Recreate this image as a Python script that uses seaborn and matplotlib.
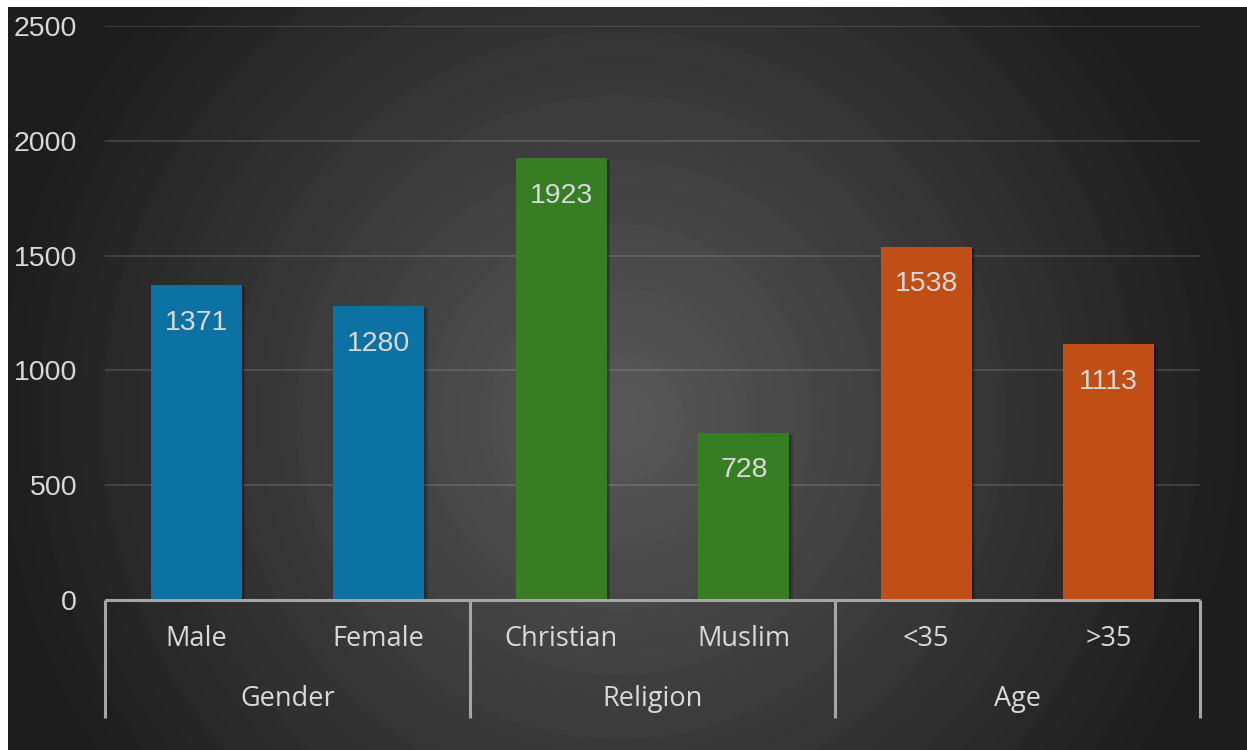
import numpy as np
import pandas as pd
import matplotlib.pyplot as plt
import matplotlib.transforms as mtrans
import matplotlib.patheffects as pe
import seaborn as sns

# ========= DATA =========
groups = ["Gender", "Gender", "Religion", "Religion", "Age", "Age"]
categories = ["Male", "Female", "Christian", "Muslim", "<35", ">35"]
values = [1371, 1280, 1923, 728, 1538, 1113]
group_names = ["Gender", "Religion", "Age"]
group_colors = ["#0B72A3", "#367D24", "#C04E15"]
y_ticks = [0, 500, 1000, 1500, 2000, 2500]

df = pd.DataFrame({"group": groups, "category": categories, "value": values})

# ========= STYLE =========
sns.set_theme(style="dark")
plt.rcParams["font.family"] = ["Open Sans", "DejaVu Sans"]
TEXT = "#d9d9d9"
NUM_FONT = ["Liberation Sans", "DejaVu Sans"]

fig = plt.figure(figsize=(12.47, 7.5), dpi=100)
fig.patch.set_facecolor("white")

# radial background with soft rings
W, H = 1239, 743
bg = fig.add_axes([8 / 1247, 0, W / 1247, H / 750])
yy, xx = np.mgrid[0:H, 0:W]
r = np.hypot(xx - 610, yy - 410) / 580.0
smooth = np.clip(r, 0, 1.6)
stepped = np.floor(smooth * 9) / 9
shade = 0.45 * stepped + 0.55 * smooth
g = 88 - 56 * np.clip(shade, 0, 1.05)
img = np.dstack([g, g, g]) / 255.0
bg.imshow(np.clip(img, 0, 1), aspect="auto", interpolation="bilinear")
bg.set_axis_off()

# ========= CHART =========
ax = fig.add_axes([105 / 1247, 150 / 750, 1095 / 1247, 574 / 750])
ax.patch.set_alpha(0)

sns.barplot(
    data=df, x="category", y="value", hue="group",
    hue_order=group_names, palette=group_colors, saturation=1,
    dodge=False, width=0.5, legend=False, ax=ax, zorder=3, linewidth=0,
)
for bar in ax.patches:
    bar.set_path_effects([
        pe.SimplePatchShadow(offset=(2.5, -1.5), shadow_rgbFace="black", alpha=0.18),
        pe.SimplePatchShadow(offset=(1.2, -0.8), shadow_rgbFace="black", alpha=0.18),
        pe.Normal(),
    ])

ax.set_xlim(-0.5, len(categories) - 0.5)
ax.set_ylim(0, 2500)
ax.set_yticks(y_ticks)
ax.set_yticklabels([str(t) for t in y_ticks], color=TEXT, fontsize=20.5,
                   family=NUM_FONT)
ax.tick_params(axis="y", length=0, pad=20)
ax.set_xticks([])
ax.set_xlabel("")
ax.set_ylabel("")
ax.grid(axis="y", color="white", alpha=0.13, linewidth=1.5, zorder=0)
ax.grid(axis="x", visible=False)
for s in ax.spines.values():
    s.set_visible(False)

# value labels inside the top of each bar
for i, v in enumerate(values):
    ax.annotate(str(v), (i, v), xytext=(0, -27), textcoords="offset points",
                ha="center", va="center", color=TEXT, fontsize=20.5,
                family=NUM_FONT, zorder=4)

# multi-level category axis
trans = mtrans.blended_transform_factory(ax.transData, ax.transAxes)
axis_col = "#a6a6a6"
depth = -118 / 574
ax.plot([-0.5, len(categories) - 0.5], [0, 0], transform=trans, color=axis_col,
        lw=2.2, clip_on=False, zorder=5, solid_capstyle="butt")
for b in [-0.5, 1.5, 3.5, 5.5]:
    ax.plot([b, b], [0, depth], transform=trans, color=axis_col, lw=2.2,
            clip_on=False, zorder=5, solid_capstyle="butt")

for i, c in enumerate(categories):
    ax.text(i, -39 / 574, c, transform=trans, ha="center", va="center",
            color=TEXT, fontsize=19.5)
for k, gname in enumerate(group_names):
    ax.text(2 * k + 0.5, -99 / 574, gname, transform=trans, ha="center",
            va="center", color=TEXT, fontsize=19.5)

plt.savefig("out.png", dpi=100)
